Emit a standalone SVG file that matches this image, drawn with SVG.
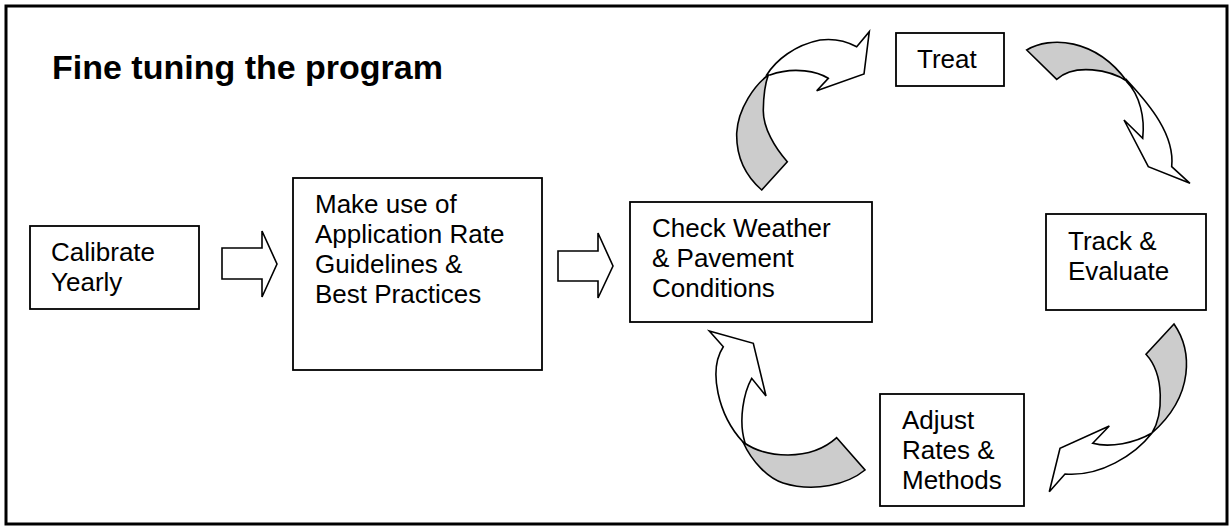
<svg xmlns="http://www.w3.org/2000/svg" width="1231" height="527" viewBox="0 0 1231 527">
<style>
.box{fill:#fff;stroke:#000;stroke-width:1.8}
.t{font-family:"Liberation Sans",Arial,sans-serif;font-size:26px;fill:#000}
.title{font-family:"Liberation Sans",Arial,sans-serif;font-size:34px;font-weight:bold;fill:#000}
.arr{fill:#fff;stroke:#000;stroke-width:1.6;stroke-linejoin:miter}
.back{fill:#cccccc;stroke:#000;stroke-width:1.6}
</style>
<rect x="0" y="0" width="1231" height="527" fill="#fff"/>
<rect x="6" y="6" width="1221" height="518" fill="none" stroke="#000" stroke-width="3"/>
<text class="title" x="52" y="79">Fine tuning the program</text>

<g id="calibrate">
<rect class="box" x="30" y="226" width="169" height="83"/>
<text class="t" x="51" y="261">Calibrate</text>
<text class="t" x="51" y="291">Yearly</text>
</g>
<g id="makeuse">
<rect class="box" x="293" y="178" width="249" height="192"/>
<text class="t" x="315" y="213">Make use of</text>
<text class="t" x="315" y="243">Application Rate</text>
<text class="t" x="315" y="273">Guidelines &amp;</text>
<text class="t" x="315" y="303">Best Practices</text>
</g>
<g id="check">
<rect class="box" x="630" y="202" width="242" height="120"/>
<text class="t" x="652" y="237">Check Weather</text>
<text class="t" x="652" y="267">&amp; Pavement</text>
<text class="t" x="652" y="297">Conditions</text>
</g>
<g id="treat">
<rect class="box" x="896" y="33" width="108" height="53"/>
<text class="t" x="917" y="68">Treat</text>
</g>
<g id="track">
<rect class="box" x="1046" y="214" width="160" height="96"/>
<text class="t" x="1068" y="250">Track &amp;</text>
<text class="t" x="1068" y="280">Evaluate</text>
</g>
<g id="adjust">
<rect class="box" x="880" y="394" width="144" height="112"/>
<text class="t" x="902" y="429">Adjust</text>
<text class="t" x="902" y="459">Rates &amp;</text>
<text class="t" x="902" y="489">Methods</text>
</g>

<g id="connectors">
<path class="arr" d="M222,248 L262,248 L262,231 L277,264 L262,297 L262,279 L222,279 Z"/>
<path class="arr" d="M558,251 L598,251 L598,233 L613,266 L598,298 L598,281 L558,281 Z"/>
<path class="back" d="M761.7,190 L787.3,161.7 C775,148 763,128 763.3,110 C763.5,95 765,84 768.3,75 C755,85 738,108 736.7,133 C736,160 748,178 761.7,190 Z"/>
<path class="arr" d="M766.7,75 C776,60 795,45 820,40 C835,38 848,42 856.7,46.7 L869.3,31.7 L864,74 L816.7,90.7 L828.3,78.3 C818,72 795,66 770,75 Z"/>
<path class="back" d="M1026.7,50 C1050,36 1095,38 1126.7,81 C1110,70 1075,63 1056.7,79.3 Z"/>
<path class="arr" d="M1126.7,80 C1150,105 1175,135 1171.7,166.7 L1190,183.3 L1148.3,166.7 L1124,120 L1142.7,138.3 C1145,118 1140,95 1126.7,81.7 Z"/>
<path class="back" d="M1174,324 C1192,350 1195,395 1152,433 C1163,415 1165,375 1146,354.3 Z"/>
<path class="arr" d="M1152,433 C1135,455 1100,477 1065,474 L1049.3,491.7 L1060,448.3 L1109.3,426 L1092.7,443.3 C1110,448 1135,443 1152,433 Z"/>
<path class="back" d="M836.7,437.7 L865,470 C848,484 815,493 783,483 C768,478 752,462 743,442 C765,458 810,462 836.7,437.7 Z"/>
<path class="arr" d="M743,442 C718,415 708,370 723.3,346.7 L709.3,331 L753.3,343.3 L766,396 L751.7,378.3 C744,392 738,420 745,443 Z"/>
</g>
</svg>
